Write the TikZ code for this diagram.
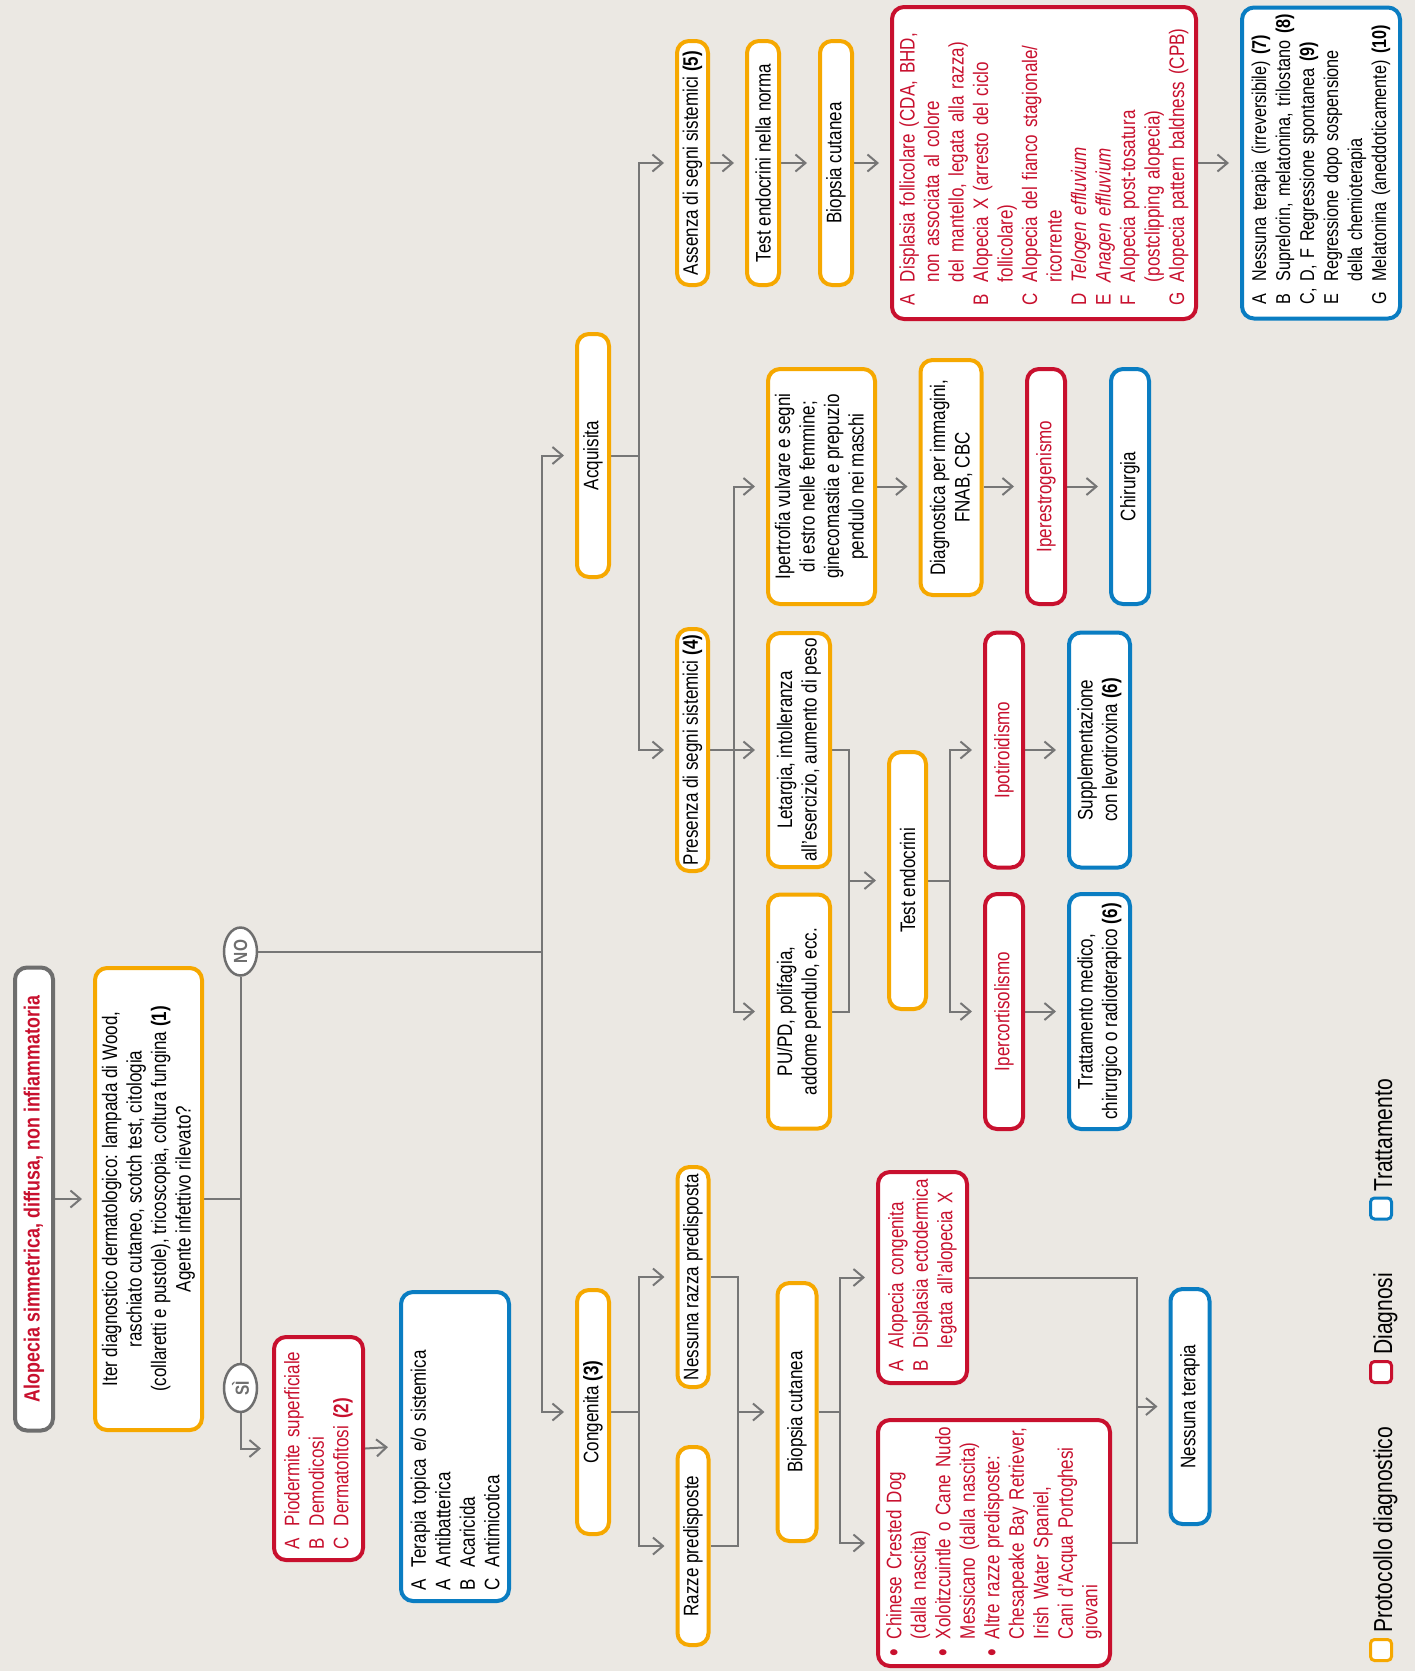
\documentclass[tikz,border=0pt]{standalone}
\usepackage{fontspec}
\setmainfont[FakeStretch=0.81]{Liberation Sans}
\usetikzlibrary{arrows.meta,shapes.geometric}
\pgfdeclarelayer{back}
\pgfsetlayers{back,main}
\definecolor{bgc}{HTML}{EBE8E3}
\definecolor{cora}{HTML}{F6A800}
\definecolor{cred}{HTML}{C8102E}
\definecolor{cblu}{HTML}{0A7DC2}
\definecolor{clin}{HTML}{767676}
\definecolor{ctit}{HTML}{6E6E6E}
\newcommand{\fs}{\fontsize{21}{24.5}\selectfont}
\newcommand{\lfs}{\fontsize{26}{30}\selectfont}
\newcommand{\li}[2]{\mbox{\makebox[23pt][l]{#1}#2}}
\newcommand{\lc}[1]{\mbox{\hspace*{23pt}#1}}
\newcommand{\lb}[1]{\mbox{\makebox[17pt][l]{\raisebox{-1.5pt}{\fontsize{27}{27}\selectfont\textbullet}}#1}}
\newcommand{\lbc}[1]{\mbox{\hspace*{17pt}#1}}
\begin{document}
\begin{tikzpicture}[x=1pt,y=-1pt,
 box/.style={draw, line width=4pt, rounded corners=12pt, fill=white, rotate=90, inner sep=0pt, font=\fs, align=center},
 pb/.style={box, draw=cora},
 db/.style={box, draw=cred, text=cred},
 tb/.style={box, draw=cblu},
 sz/.style 2 args={minimum width=#1, minimum height=#2},
 lst/.style 2 args={align=left, text width=#1, inner xsep=#2},
 conn/.style={draw=clin, line width=2pt},
 arr/.style={conn, -{Straight Barb[length=10pt,width=17pt]}, shorten >=11pt},
 yn/.style={ellipse, draw=ctit, line width=2.5pt, fill=white, rotate=90, inner sep=0pt, minimum width=48pt, minimum height=33pt, font=\fontsize{19}{19}\selectfont\bfseries, text=ctit},
 leg/.style={draw, line width=3pt, rounded corners=4pt, fill=white, minimum size=21pt, inner sep=0pt},
 legt/.style={rotate=90, anchor=base west, font=\lfs, inner sep=0pt},
]
\useasboundingbox (0,0) rectangle (1415,1671);

% ---- left part
\node[box, draw=ctit, text=cred, font=\fontsize{22}{26}\selectfont\bfseries, sz={463pt}{38pt}] (tit) at (34,1199) {Alopecia simmetrica, diffusa, non infiammatoria};
\node[pb, sz={462pt}{107pt}] (iter) at (148.5,1199) {Iter diagnostico dermatologico: lampada di Wood,\\raschiato cutaneo, scotch test, citologia\\(collaretti e pustole), tricoscopia, coltura fungina \textbf{(1)}\\Agente infettivo rilevato?};
\node[yn] (no) at (240.5,951.5) {NO};
\node[yn] (si) at (240.5,1388) {SÌ};
\node[db, sz={223pt}{89pt}, lst={201pt}{11pt}] (pio) at (318.5,1448.5) {\li{A}{Piodermite superficiale}\\\li{B}{Demodicosi}\\\li{C}{Dermatofitosi \textbf{(2)}}};
\node[tb, sz={309pt}{108pt}, lst={287pt}{11pt}] (ter) at (455,1446.5) {\li{A}{Terapia topica e/o sistemica}\\\li{A}{Antibatterica}\\\li{B}{Acaricida}\\\li{C}{Antimicotica}};

% ---- acquired / congenital
\node[pb, sz={243pt}{32pt}] (acq) at (593,455.5) {Acquisita};
\node[pb, sz={244pt}{32pt}] (con) at (593,1412) {Congenita \textbf{(3)}};

% ---- no systemic signs
\node[pb, sz={244pt}{31pt}] (ass) at (692.5,163) {Assenza di segni sistemici \textbf{(5)}};
\node[pb, sz={244pt}{32pt}] (ten) at (763,163) {Test endocrini nella norma};
\node[pb, sz={244pt}{32pt}] (bio1) at (836,163) {Biopsia cutanea};
\node[db, sz={312pt}{304pt}, lst={284pt}{14pt}] (rb) at (1044,163) {\li{A}{Displasia follicolare (CDA, BHD,}\\\lc{non associata al colore}\\\lc{del mantello, legata alla razza)}\\\li{B}{Alopecia X (arresto del ciclo}\\\lc{follicolare)}\\\li{C}{Alopecia del fianco stagionale/}\\\lc{ricorrente}\\\li{D}{\textit{Telogen effluvium}}\\\li{E}{\textit{Anagen effluvium}}\\\li{F}{Alopecia post-tosatura}\\\lc{(postclipping alopecia)}\\\li{G}{Alopecia pattern baldness (CPB)}};
\node[tb, font=\fontsize{20}{24}\selectfont, sz={311pt}{158pt}, lst={283pt}{14pt}] (bb) at (1321,163) {\li{A}{Nessuna terapia (irreversibile) \textbf{(7)}}\\\li{B}{Suprelorin, melatonina, trilostano \textbf{(8)}}\\\mbox{C, D, F\hspace{7pt}Regressione spontanea \textbf{(9)}}\\\li{E}{Regressione dopo sospensione}\\\lc{della chemioterapia}\\\li{G}{Melatonina (aneddoticamente) \textbf{(10)}}};

% ---- systemic signs
\node[pb, sz={242pt}{31pt}] (pre) at (692.5,750) {Presenza di segni sistemici \textbf{(4)}};
\node[pb, sz={235pt}{107pt}] (ipe) at (821.5,486.5) {Ipertrofia vulvare e segni\\di estro nelle femmine;\\ginecomastia e prepuzio\\pendulo nei maschi};
\node[pb, sz={234pt}{62pt}] (let) at (799,750) {Letargia, intolleranza\\all'esercizio, aumento di peso};
\node[pb, sz={234pt}{62pt}] (pupd) at (799,1011.5) {PU/PD, polifagia,\\addome pendulo, ecc.};
\node[pb, sz={257pt}{37pt}] (tend) at (907.5,880.5) {Test endocrini};
\node[pb, sz={235pt}{61pt}] (dia) at (951,477.5) {Diagnostica per immagini,\\FNAB, CBC};
\node[db, sz={235pt}{38pt}] (ies) at (1046,486.5) {Iperestrogenismo};
\node[tb, sz={235pt}{38pt}] (chi) at (1130,486.5) {Chirurgia};
\node[db, sz={235pt}{38pt}] (ipo) at (1004,750) {Ipotiroidismo};
\node[db, sz={235pt}{38pt}] (ipc) at (1004,1011.5) {Ipercortisolismo};
\node[tb, sz={235pt}{61pt}] (sup) at (1099.5,750) {Supplementazione\\con levotiroxina \textbf{(6)}};
\node[tb, sz={235pt}{61pt}] (trm) at (1099.5,1011.5) {Trattamento medico,\\chirurgico o radioterapico \textbf{(6)}};

% ---- congenital branch
\node[pb, sz={220pt}{31pt}] (nrp) at (693,1277) {Nessuna razza predisposta};
\node[pb, sz={198pt}{31pt}] (rp) at (693,1546) {Razze predisposte};
\node[pb, sz={258pt}{39pt}] (bio2) at (797,1412) {Biopsia cutanea};
\node[db, sz={211pt}{89pt}, lst={187pt}{12pt}] (acg) at (922.5,1277.5) {\li{A}{Alopecia congenita}\\\li{B}{Displasia ectodermica}\\\lc{legata all'alopecia X}};
\node[db, sz={246pt}{232pt}, lst={226pt}{10pt}] (ccd) at (994,1543) {\lb{Chinese Crested Dog}\\\lbc{(dalla nascita)}\\\lb{Xoloitzcuintle o Cane Nudo}\\\lbc{Messicano (dalla nascita)}\\\lb{Altre razze predisposte:}\\\lbc{Chesapeake Bay Retriever,}\\\lbc{Irish Water Spaniel,}\\\lbc{Cani d'Acqua Portoghesi}\\\lbc{giovani}};
\node[tb, sz={235pt}{39pt}] (nt) at (1190,1406.5) {Nessuna terapia};

% ---- legend
\node[leg, draw=cora] (l1) at (1381,1650) {};
\node[legt] (lt1) at (1392,1633) {Protocollo diagnostico};
\node[leg, draw=cred] (l2) at (1381,1372) {};
\node[legt] (lt2) at (1392,1355) {Diagnosi};
\node[leg, draw=cblu] (l3) at (1381,1208.5) {};
\node[legt] (lt3) at (1392,1192) {Trattamento};

% ---- connectors
\coordinate (tr) at (542,951.5);
\coordinate (b1) at (638.5,455.5);
\coordinate (b2) at (733.5,750);
\coordinate (m1) at (849,880.5);
\coordinate (b3) at (950,880.5);
\coordinate (b4) at (639,1412);
\coordinate (m2) at (737.6,1412);
\coordinate (b5) at (840,1412);
\coordinate (m3) at (1136.7,1406.5);

\begin{pgfonlayer}{back}
\fill[bgc] (0,0) rectangle (1415,1671);
\draw[arr] (tit.south) -- (iter.north);
\draw[conn] (iter.south) -- (iter.south -| no.center);
\draw[conn] (no.west) -- (si.east);
\draw[arr] (si.west) |- (pio.north);
\draw[arr] (pio.south) -- (ter.north);
\draw[conn] (no.south) -- (tr);
\draw[arr] (tr) |- (acq.north);
\draw[arr] (tr) |- (con.north);
\draw[conn] (acq.south) -- (b1);
\draw[arr] (b1) |- (ass.north);
\draw[arr] (b1) |- (pre.north);
\draw[arr] (ass.south) -- (ten.north);
\draw[arr] (ten.south) -- (bio1.north);
\draw[arr] (bio1.south) -- (rb.north);
\draw[arr] (rb.south) -- (bb.north);
\draw[arr] (pre.south) -- (let.north);
\draw[arr] (b2) |- (ipe.north);
\draw[arr] (b2) |- (pupd.north);
\draw[conn] (let.south) -| (m1);
\draw[conn] (pupd.south) -| (m1);
\draw[arr] (m1) -- (tend.north);
\draw[conn] (tend.south) -- (b3);
\draw[arr] (b3) |- (ipo.north);
\draw[arr] (b3) |- (ipc.north);
\draw[arr] (ipo.south) -- (sup.north);
\draw[arr] (ipc.south) -- (trm.north);
\draw[arr] (ipe.south) -- (ipe.south -| dia.north);
\draw[arr] (ipe.south -| dia.south) -- (ipe.south -| ies.north);
\draw[arr] (ies.south) -- (chi.north);
\draw[conn] (con.south) -- (b4);
\draw[arr] (b4) |- (nrp.north);
\draw[arr] (b4) |- (rp.north);
\draw[conn] (nrp.south) -| (m2);
\draw[conn] (rp.south) -| (m2);
\draw[arr] (m2) -- (bio2.north);
\draw[conn] (bio2.south) -- (b5);
\draw[arr] (b5) |- (acg.north);
\draw[arr] (b5) |- (ccd.north);
\draw[conn] (acg.south) -| (m3);
\draw[conn] (ccd.south) -| (m3);
\draw[arr] (m3) -- (nt.north);
\end{pgfonlayer}
\end{tikzpicture}
\end{document}
